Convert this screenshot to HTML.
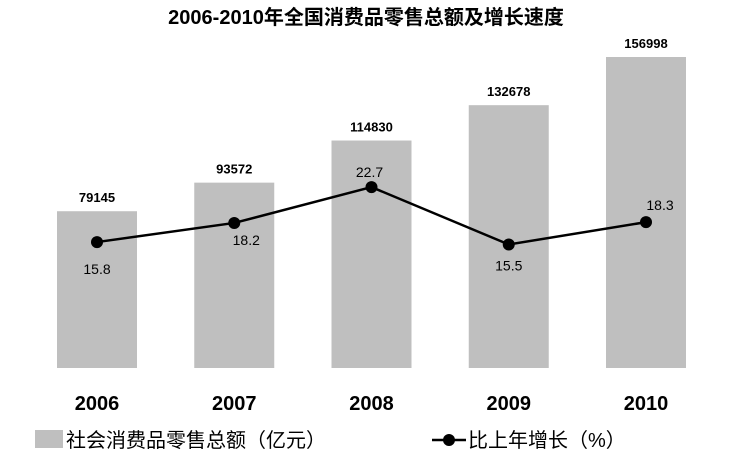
<!DOCTYPE html>
<html><head><meta charset="utf-8"><style>
body{margin:0;background:#fff;}
svg text{font-family:"Liberation Sans","Noto Sans CJK SC",sans-serif;}
</style></head><body>
<svg width="733" height="460" viewBox="0 0 733 460">
<text x="366" y="24" text-anchor="middle" font-size="20" font-weight="bold" fill="#000">2006-2010年全国消费品零售总额及增长速度</text>
<g id="bars"></g><g id="line"></g><g id="labels"></g>
<g>
<rect x="35" y="430" width="28" height="18" fill="#bfbfbf"/>
<text x="66" y="447" font-size="20" fill="#000">社会消费品零售总额（亿元）</text>
<line x1="432" y1="440" x2="466" y2="440" stroke="#000" stroke-width="2.5"/>
<circle cx="449" cy="440" r="6" fill="#000"/>
<text x="468" y="447" font-size="20" fill="#000">比上年增长（%）</text>
</g>
</svg>
<script>
const categories=["2006","2007","2008","2009","2010"];
const salesValues=[79145,93572,114830,132678,156998];
const growthValues=[15.8,18.2,22.7,15.5,18.3];
const NS="http://www.w3.org/2000/svg";
const baseY=368;
function xPos(i){return 97+i*137.25;}
function yBar(v){return baseY-v*(311/156998);}
function yLine(v){return baseY-v*7.97;}
function mk(tag,attrs,parent){const e=document.createElementNS(NS,tag);for(const k in attrs)e.setAttribute(k,attrs[k]);document.getElementById(parent).appendChild(e);return e;}
const lblOff=[[0,32],[12,22],[-2,-10],[0,26],[14,-12]];
let pts=[];
categories.forEach((c,i)=>{
  const x=xPos(i),yt=yBar(salesValues[i]);
  const r=mk('rect',{x:x-40,y:yt,width:80,height:baseY-yt,fill:'#bfbfbf'},'bars');
  
  
  const t=mk('text',{x:x,y:yt-9,'text-anchor':'middle','font-size':13,'font-weight':'bold'},'labels');
  t.textContent=salesValues[i];
  
  
  const ct=mk('text',{x:x,y:410,'text-anchor':'middle','font-size':20,'font-weight':'bold'},'labels');
  ct.textContent=c;
  
  
  pts.push([x,yLine(growthValues[i])]);
});
const pl=mk('polyline',{points:pts.map(p=>p.join(',')).join(' '),fill:'none',stroke:'#000','stroke-width':2.5},'line');


pts.forEach((p,i)=>{
  const c=mk('circle',{cx:p[0],cy:p[1],r:6,fill:'#000'},'line');
  
  
  const t=mk('text',{x:p[0]+lblOff[i][0],y:p[1]+lblOff[i][1],'text-anchor':'middle','font-size':14},'labels');
  t.textContent=growthValues[i].toFixed(1);
  
  
});
</script>
</body></html>
